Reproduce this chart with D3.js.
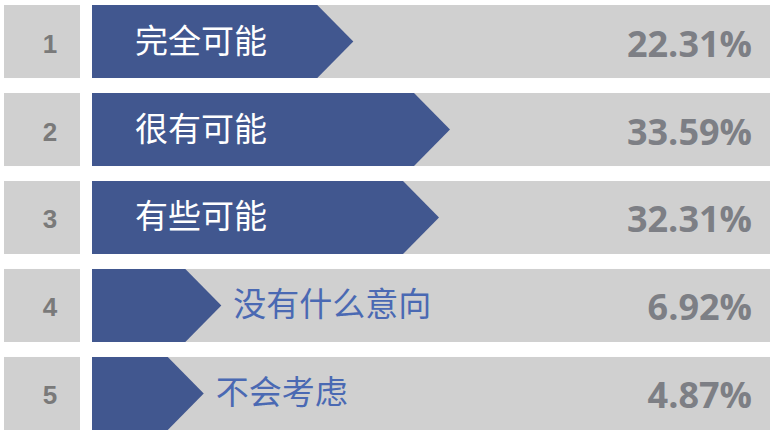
<!DOCTYPE html>
<html>
<head>
<meta charset="utf-8">
<script src="https://cdn.jsdelivr.net/npm/d3@7"></script>
<style>
  body { margin: 0; background: #fff; }
</style>
</head>
<body>
<svg id="chart" width="774" height="435"></svg>
<script>
// data
var ranks = ["1", "2", "3", "4", "5"]
var answers = ["完全可能", "很有可能", "有些可能", "没有什么意向", "不会考虑"]
var shares = [22.31, 33.59, 32.31, 6.92, 4.87]

var grey = "#d0d0d0"
var navy = "#41578f"
var labelBlue = "#4a69b3"
var valueGrey = "#7d7f85"
var rankGrey = "#7a7a7a"

var svg = d3.select("#chart")

var rows = ranks.map(function (r, i) {
  return { rank: r, answer: answers[i], share: shares[i] }
})

var y = d3.scaleBand()
  .domain(ranks)
  .range([5, 430])
  .paddingInner(0.17)

// tip of the arrow
var x = d3.scaleLinear()
  .domain([0, d3.max(shares)])
  .range([162, 450])

var barLeft = 92, barRight = 770, notch = 36

var row = svg.selectAll("g.row")
  .data(rows)
  .enter().append("g")
  .attr("class", "row")
  .attr("transform", function (d) { return "translate(0," + y(d.rank) + ")" })

var h = y.bandwidth()

// rank box
row.append("rect")
  .attr("x", 4).attr("y", 0)
  .attr("width", 76).attr("height", h)
  .style("fill", grey)

row.append("text")
  .attr("x", 50)
  .attr("y", h / 2 + 11)
  .style("text-anchor", "middle")
  .style("font-family", "'Liberation Sans', Arial, sans-serif")
  .style("font-weight", "bold")
  .style("font-size", "26px")
  .style("fill", rankGrey)
  .text(function (d) { return d.rank })

// grey track
row.append("rect")
  .attr("x", barLeft).attr("y", 0)
  .attr("width", barRight - barLeft).attr("height", h)
  .style("fill", grey)

// arrow bar
row.append("path")
  .attr("d", function (d) {
    var tip = x(d.share)
    return "M" + barLeft + ",0" +
      "L" + (tip - notch) + ",0" +
      "L" + tip + "," + (h / 2) +
      "L" + (tip - notch) + "," + h +
      "L" + barLeft + "," + h + "Z"
  })
  .style("fill", navy)

// answer text: inside when the bar is long, after the tip otherwise
row.append("text")
  .attr("x", function (d) {
    return x(d.share) - barLeft > 200 ? 135 : x(d.share) + 12
  })
  .attr("y", h / 2 + 11)
  .style("font-family", "'Noto Sans CJK SC', sans-serif")
  .style("font-size", "33px")
  .style("fill", function (d) { return x(d.share) - barLeft > 200 ? "#fff" : labelBlue })
  .text(function (d) { return d.answer })

// percentage
row.append("text")
  .attr("x", 752)
  .attr("y", h / 2 + 15)
  .style("text-anchor", "end")
  .style("font-family", "'Open Sans', sans-serif")
  .style("font-weight", "bold")
  .style("font-size", "36px")
  .style("fill", valueGrey)
  .text(function (d) { return d3.format(".2f")(d.share) + "%" })
</script>
</body>
</html>
